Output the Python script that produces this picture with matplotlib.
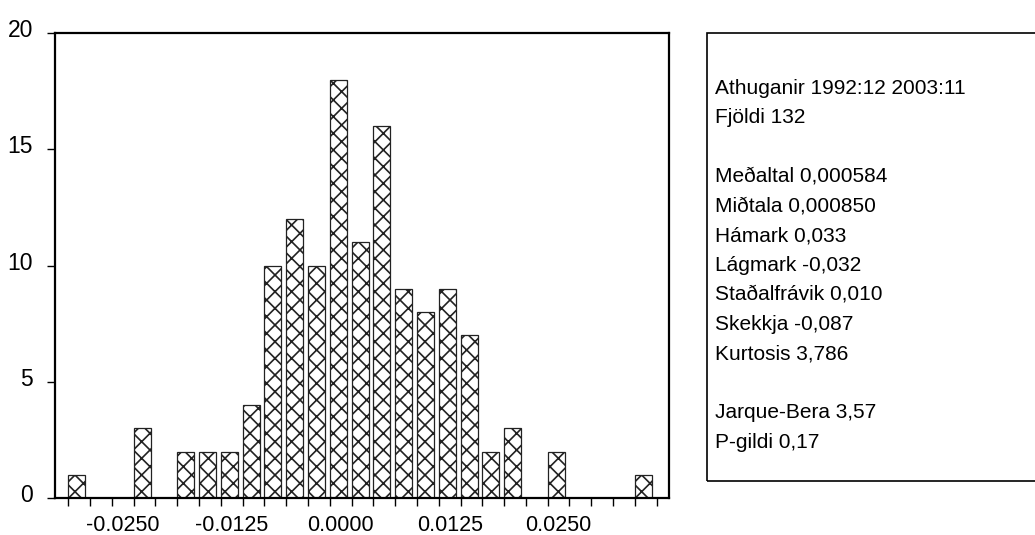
import matplotlib
matplotlib.use("Agg")
import matplotlib.pyplot as plt
import matplotlib.transforms as mtransforms
from matplotlib.patches import Rectangle
import numpy as np

plt.rcParams['font.family'] = ['Liberation Sans', 'DejaVu Sans']
plt.rcParams['hatch.linewidth'] = 1.2

# histogram data (counts per bin of width 0.0025)
binStart = -0.03125
binWidth = 0.0025
counts = [1, 0, 0, 3, 0, 2, 2, 2, 4, 10, 12, 10, 18, 11, 16,
          9, 8, 9, 7, 2, 3, 0, 2, 0, 0, 0, 1]
tickLabels = [-0.025, -0.0125, 0.0, 0.0125, 0.025]

statLines = [
    "Athuganir 1992:12 2003:11",
    "Fjöldi 132",
    "",
    "Meðaltal 0,000584",
    "Miðtala 0,000850",
    "Hámark 0,033",
    "Lágmark -0,032",
    "Staðalfrávik 0,010",
    "Skekkja -0,087",
    "Kurtosis 3,786",
    "",
    "Jarque-Bera 3,57",
    "P-gildi 0,17",
]

W, H = 1035, 535
fig = plt.figure(figsize=(W / 100, H / 100), dpi=100)
ax = fig.add_axes([55 / W, (H - 498) / H, (669 - 55) / W, (498 - 33) / H])

edges = binStart + binWidth * np.arange(len(counts) + 1)
ax.bar(edges[:-1], counts, width=binWidth * 0.78, align='edge',
       facecolor='white', edgecolor='#222222', hatch='xx', linewidth=0.9)

ax.set_xlim(binStart - 0.00153, edges[-1] + 0.00142)
ax.set_ylim(0, 20)

# ticks on bin edges, labels sit between them
ax.set_xticks(edges, minor=False)
ax.set_xticklabels([])
ax.set_xticks(tickLabels, minor=True)
ax.set_xticklabels(["{0:.4f}".format(v) for v in tickLabels], minor=True)
ax.tick_params(axis='x', which='major', direction='out', length=6, width=1)
ax.tick_params(axis='x', which='minor', length=0, pad=12, labelsize=15.5)
ax.set_yticks([0, 5, 10, 15, 20])
ax.tick_params(axis='y', direction='out', length=6, width=1, labelsize=16.5, pad=10)

# y labels sit a little above their ticks
shift = mtransforms.ScaledTranslation(0, 5 / 100, fig.dpi_scale_trans)
for lbl in ax.get_yticklabels():
    lbl.set_transform(lbl.get_transform() + shift)

for s in ax.spines.values():
    s.set_linewidth(1.6)

# statistics box
fig.patches.append(Rectangle((707 / W, (H - 481) / H), (1040 - 707) / W,
                             (481 - 33) / H, transform=fig.transFigure,
                             fill=False, edgecolor='black', linewidth=1.2))
y0 = 88
step = 29.5
for i, line in enumerate(statLines):
    if line:
        fig.text(715 / W, (H - (y0 + i * step)) / H, line, fontsize=15,
                 ha='left', va='center')

fig.savefig("out.png", dpi=100)
